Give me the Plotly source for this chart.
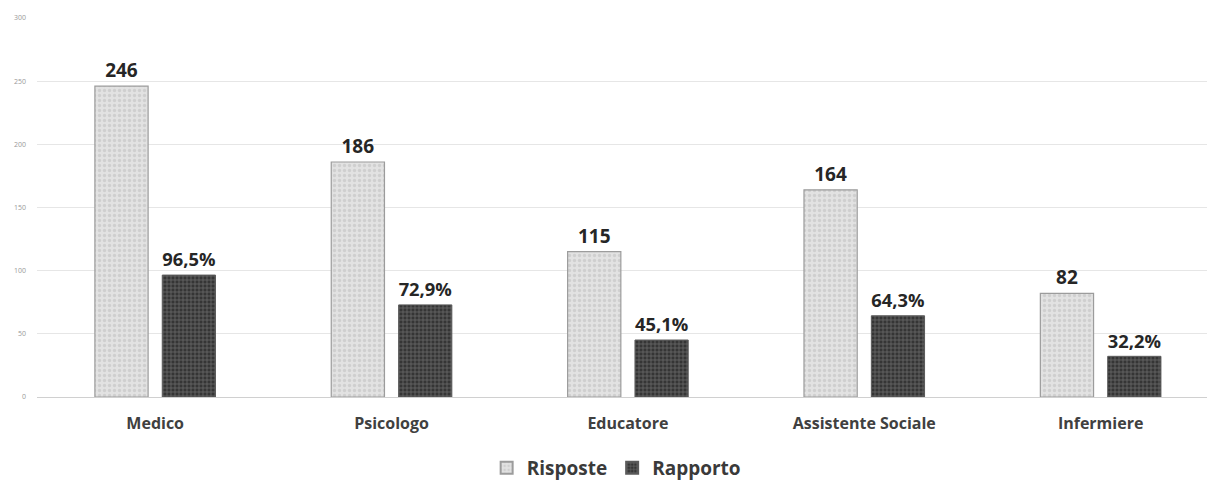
import plotly.graph_objects as go

categories = ["Medico", "Psicologo", "Educatore", "Assistente Sociale", "Infermiere"]
risposte = [246, 186, 115, 164, 82]
rapporto = [96.5, 72.9, 45.1, 64.3, 32.2]
y_ticks = [0, 50, 100, 150, 200, 250, 300]

FONT = "Open Sans"
risposte_text = [str(v) for v in risposte]
rapporto_text = [f"{v:.1f}".replace(".", ",") + "%" for v in rapporto]

fig = go.Figure()
fig.add_trace(go.Bar(
    x=categories, y=risposte, name="<b>Risposte</b>",
    text=risposte_text, textposition="outside",
    textfont=dict(family=FONT, size=19, color="#262626"),
    marker=dict(
        color="#e0e0e0",
        line=dict(color="#9c9c9c", width=1.2),
        pattern=dict(shape=".", fgcolor="#cfcfcf", bgcolor="#e2e2e2",
                     size=5, solidity=0.35, fillmode="replace"),
    ),
    cliponaxis=False,
))
fig.add_trace(go.Bar(
    x=categories, y=rapporto, name="<b>Rapporto</b>",
    text=rapporto_text, textposition="outside",
    textfont=dict(family=FONT, size=19, color="#262626"),
    marker=dict(
        color="#404040",
        line=dict(color="#5a5a5a", width=1),
        pattern=dict(shape="+", fgcolor="#6a6a6a", bgcolor="#353535",
                     size=4, solidity=0.35, fillmode="replace"),
    ),
    cliponaxis=False,
))

fig.update_layout(
    width=1207, height=487,
    margin=dict(l=37, r=0, t=18, b=90, autoexpand=False),
    paper_bgcolor="white", plot_bgcolor="white",
    barmode="group", bargap=0.43, bargroupgap=0.21,
    font=dict(family=FONT, color="#404040"),
    showlegend=True,
    legend=dict(
        orientation="h", x=0.495, xanchor="center", xref="paper",
        y=0.0, yanchor="bottom", yref="container",
        font=dict(family=FONT, size=19, color="#3a3a3a"),
        itemsizing="constant", traceorder="normal",
        itemclick=False, itemdoubleclick=False,
    ),
    xaxis=dict(
        range=[-0.5, 4.45], automargin=False,
        showgrid=False, showline=False, zeroline=False,
        ticks="", tickfont=dict(family=FONT, size=16, color="#404040"),
        ticklabelstandoff=15,
    ),
    yaxis=dict(
        range=[0, 300], tickvals=y_ticks, automargin=False,
        showgrid=True, gridcolor="#e6e6e6", gridwidth=1.2,
        zeroline=True, zerolinecolor="#d0d0d0", zerolinewidth=1.2,
        showline=False, ticks="",
        tickfont=dict(family=FONT, size=7, color="#999999"),
        ticklabelstandoff=10,
    ),
)
fig.update_traces(texttemplate="<b>%{text}</b>")
fig.update_xaxes(tickvals=categories, ticktext=[f"<b>{c}</b>" for c in categories])

fig.write_html("out.html")
